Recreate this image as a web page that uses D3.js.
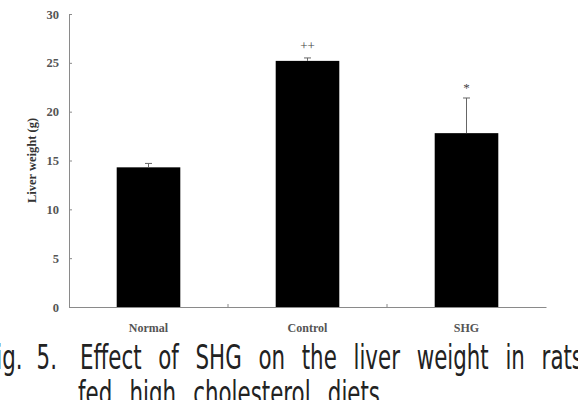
<!DOCTYPE html>
<html>
<head>
<meta charset="utf-8">
<script src="https://cdn.jsdelivr.net/npm/d3@7"></script>
<style>
  body { margin: 0; background: #fff; }
  svg { display: block; }
</style>
</head>
<body>
<svg id="chart" width="578" height="400"></svg>
<script>
// Liver weight bar chart

const groups = ['Normal', 'Control', 'SHG']
const means = [14.3, 25.2, 17.8]
const errors = [0.4, 0.3, 3.6]
const marks = ['', '++', '*']
const yTicks = [0, 5, 10, 15, 20, 25, 30]
const captionLabel = 'Fig. 5.'
const captionLine1 = 'Effect of SHG on the liver weight in rats'
const captionLine2 = 'fed high cholesterol diets'

const svg = d3.select('#chart')
const plotLeft = 69
const plotRight = 546
const plotTop = 14
const plotBottom = 307

const x = d3.scaleBand().domain(groups).range([plotLeft, plotRight])
const y = d3.scaleLinear().domain([0, 30]).range([plotBottom, plotTop])
const barWidth = x.bandwidth() * 0.4

const axisColor = '#8a8a8a'
const labelFont = '"Liberation Serif", "Times New Roman", serif'

// y axis
const yAxis = svg.append('g')
  .attr('transform', `translate(${plotLeft},0)`)
  .call(d3.axisRight(y).tickValues(yTicks).tickSize(3).tickFormat(''))
yAxis.select('.domain').attr('stroke', axisColor)
yAxis.selectAll('.tick line').attr('stroke', axisColor)

svg.append('g').selectAll('text')
  .data(yTicks)
  .join('text')
  .attr('x', 59)
  .attr('y', d => y(d) + 4.5)
  .attr('text-anchor', 'end')
  .attr('font-family', labelFont)
  .attr('font-weight', 'bold')
  .attr('font-size', 12.5)
  .attr('fill', '#555')
  .text(d => d)

// x axis, ticks between categories
const xAxis = svg.append('g')
  .attr('transform', `translate(0,${plotBottom})`)
  .call(d3.axisTop(x).tickSize(0).tickFormat(''))
xAxis.select('.domain').attr('stroke', axisColor)
xAxis.selectAll('.tick').remove()
xAxis.selectAll('line.sep')
  .data(groups.slice(1))
  .join('line')
  .attr('class', 'sep')
  .attr('x1', d => x(d))
  .attr('x2', d => x(d))
  .attr('y1', 0)
  .attr('y2', -3)
  .attr('stroke', axisColor)

svg.append('g').selectAll('text')
  .data(groups)
  .join('text')
  .attr('x', d => x(d) + x.bandwidth() / 2)
  .attr('y', 332)
  .attr('text-anchor', 'middle')
  .attr('font-family', labelFont)
  .attr('font-weight', 'bold')
  .attr('font-size', 12)
  .attr('fill', '#555')
  .text(d => d)

// y label
svg.append('text')
  .attr('transform', `translate(36,${y(15)}) rotate(-90)`)
  .attr('text-anchor', 'middle')
  .attr('font-family', labelFont)
  .attr('font-weight', 'bold')
  .attr('font-size', 12.5)
  .attr('fill', '#333')
  .text('Liver weight (g)')

// bars
const cx = d => x(d) + x.bandwidth() / 2

svg.append('g').selectAll('rect')
  .data(groups)
  .join('rect')
  .attr('x', d => cx(d) - barWidth / 2)
  .attr('y', (d, i) => y(means[i]))
  .attr('width', barWidth)
  .attr('height', (d, i) => plotBottom - y(means[i]))
  .attr('fill', '#000')

// error bars (upper only)
const err = svg.append('g').attr('stroke', '#666').attr('stroke-width', 1)
err.selectAll('line.v')
  .data(groups)
  .join('line')
  .attr('class', 'v')
  .attr('x1', cx).attr('x2', cx)
  .attr('y1', (d, i) => y(means[i]))
  .attr('y2', (d, i) => y(means[i] + errors[i]))
err.selectAll('line.c')
  .data(groups)
  .join('line')
  .attr('class', 'c')
  .attr('x1', d => cx(d) - 3.5).attr('x2', d => cx(d) + 3.5)
  .attr('y1', (d, i) => y(means[i] + errors[i]))
  .attr('y2', (d, i) => y(means[i] + errors[i]))

// significance marks
svg.append('g').selectAll('text')
  .data(groups)
  .join('text')
  .attr('x', cx)
  .attr('y', (d, i) => y(means[i] + errors[i]) - (i === 2 ? 6 : 8))
  .attr('text-anchor', 'middle')
  .attr('font-family', labelFont)
  .attr('font-size', 13)
  .attr('fill', '#444')
  .text((d, i) => marks[i])

// caption: condensed sans, squeezed horizontally
const capFont = '"DejaVu Sans Condensed", "DejaVu Sans", sans-serif'
const squeeze = 0.72

function captionText (str, x0, yy, anchor) {
  return svg.append('text')
    .attr('transform', `translate(${x0},${yy}) scale(${squeeze},1)`)
    .attr('text-anchor', anchor || 'start')
    .attr('font-family', capFont)
    .attr('font-size', 33)
    .attr('fill', '#222')
    .text(str)
}

function justify (t, str, width) {
  const gaps = str.split(' ').length - 1
  const w = t.node().getComputedTextLength() * squeeze
  t.attr('word-spacing', (width - w) / gaps / squeeze)
}

captionText(captionLabel, 57, 369, 'end').attr('word-spacing', 10)
const line1 = captionText(captionLine1, 80, 369)
justify(line1, captionLine1, 503)
const line2 = captionText(captionLine2, 78, 405)
justify(line2, captionLine2, 302)
</script>
</body>
</html>
